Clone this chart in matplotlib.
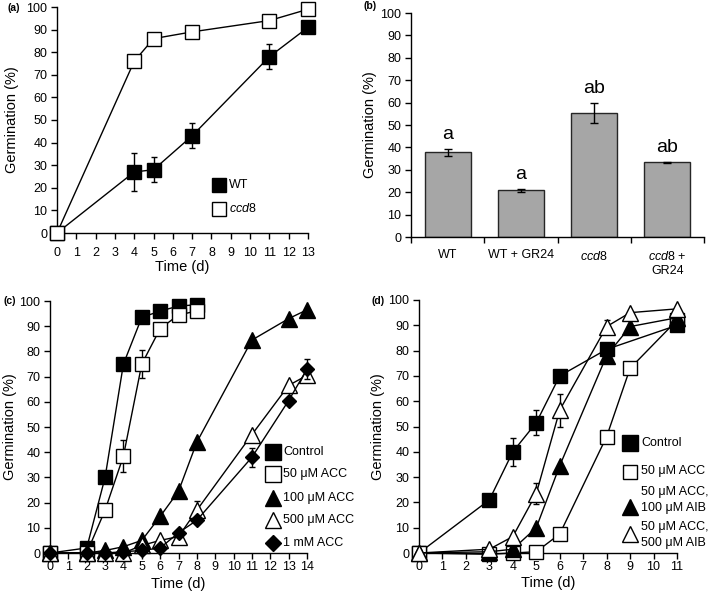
import matplotlib
matplotlib.use("Agg")
import matplotlib.pyplot as plt
import numpy as np

plt.rcParams['font.family'] = ['Liberation Sans', 'DejaVu Sans']
plt.rcParams['mathtext.fontset'] = 'custom'
plt.rcParams['mathtext.it'] = 'Liberation Sans:italic'
plt.rcParams['mathtext.rm'] = 'Liberation Sans'

# ---------------- data ----------------
# (a)
a_days = [0, 4, 5, 7, 11, 13]
a_wt = [0, 27, 28, 43, 78, 91]
a_wt_err = [0, 8.5, 5.5, 5.5, 5.5, 0]
a_ccd8 = [0, 76, 86, 89, 94, 99]
a_ccd8_err = [0, 0, 0, 0, 0, 0]
a_legend = ["WT", r"$\mathit{ccd8}$"]

# (b)
b_labels = ["WT", "WT + GR24", r"$\mathit{ccd8}$", r"$\mathit{ccd8}$ +" + "\nGR24"]
b_vals = [37.8, 20.8, 55.5, 33.3]
b_err = [1.7, 0.8, 4.5, 0.3]
b_letters = ["a", "a", "ab", "ab"]

# (c)
c_days_short = [0, 2, 3, 4, 5, 6, 7, 8]
c_days_long = [0, 2, 3, 4, 5, 6, 7, 8, 11, 13, 14]
c_control = [0, 2, 30, 75, 93.5, 96, 98, 98.5]
c_control_err = [0, 0, 0, 0, 0, 0, 0, 0]
c_acc50 = [0, 0, 17, 38.5, 75, 89, 94.5, 96]
c_acc50_err = [0, 0, 0, 6.5, 5.5, 0, 0, 0]
c_acc100 = [0, 0, 1, 2.5, 5, 14.5, 24.5, 44, 84.5, 93, 96.5]
c_acc100_err = [0, 0, 0, 0, 0, 0, 0, 0, 0, 0, 0]
c_acc500 = [0, 0, 0, 0, 3, 5, 6.5, 17, 47, 66.5, 70.5]
c_acc500_err = [0, 0, 0, 0, 0, 0, 0, 3.5, 0, 0, 0]
c_acc1m = [0, 0, 0, 0.5, 1, 2, 8, 13, 38, 60.5, 73]
c_acc1m_err = [0, 0, 0, 0, 0, 0, 0, 0, 3.8, 0, 4]
c_legend = ["Control", "50 μM ACC", "100 μM ACC", "500 μM ACC", "1 mM ACC"]

# (d)
d_days_ctrl = [0, 3, 4, 5, 6, 8, 11]
d_days = [0, 3, 4, 5, 6, 8, 9, 11]
d_control = [0, 21, 40, 51.5, 70, 80.5, 90]
d_control_err = [0, 0, 5.5, 5, 0, 0, 0]
d_acc50 = [0, -0.5, 0, 0.5, 7.5, 46, 73, 92]
d_acc50_err = [0, 0, 0, 0, 0, 0, 0, 0]
d_aib100 = [0, 0.5, 1.5, 10, 34.5, 78, 89.5, 93]
d_aib100_err = [0, 0, 0, 0, 0, 0, 0, 0]
d_aib500 = [0, 1.5, 6.5, 23.5, 56.5, 89.5, 95, 96.5]
d_aib500_err = [0, 0, 0, 4, 6.5, 2.5, 0, 0]
d_legend = ["Control", "50 μM ACC", "50 μM ACC,\n100 μM AIB", "50 μM ACC,\n500 μM AIB"]

# ---------------- figure ----------------
W, H = 709, 596
fig = plt.figure(figsize=(W / 100, H / 100), dpi=100)

def ax_px(l, t, r, b):
    return fig.add_axes([l / W, 1 - b / H, (r - l) / W, (b - t) / H])

TICK_FS = 9
LAB_FS = 10.5
LEG_FS = 9

def style(ax, l, t, r, b, ylab_x, xlab_y=None, xpad=2):
    ax.spines['top'].set_visible(False)
    ax.spines['right'].set_visible(False)
    for s in ('left', 'bottom'):
        ax.spines[s].set_linewidth(1.0)
    ax.tick_params(direction='out', length=4, width=1, labelsize=TICK_FS, pad=3)
    ax.tick_params(axis='x', pad=xpad)
    ax.set_ylim(0, 100)
    ax.set_yticks(range(0, 101, 10))
    ax.set_ylabel("Germination (%)", fontsize=LAB_FS, va='center')
    ax.yaxis.set_label_coords((ylab_x - l) / (r - l), 0.5)
    if xlab_y is not None:
        ax.set_xlabel("Time (d)", fontsize=LAB_FS, va='center')
        ax.xaxis.set_label_coords(0.5, -(xlab_y - b) / (b - t))

def series(ax, x, y, err, marker, fc, ms, z):
    ax.errorbar(x, y, yerr=err, color='black', lw=1, elinewidth=1, capsize=2.5,
                marker=marker, ms=ms, mfc=fc, mec='black', mew=1, zorder=z, clip_on=False)

def manual_legend(ax, styles, labels, xm, xt, ym, yt):
    tf = fig.transFigure
    for (marker, fc, ms), lab, y1, y2 in zip(styles, labels, ym, yt):
        ax.plot([xm / W], [1 - y1 / H], transform=tf, ls='none', marker=marker, ms=ms,
                mfc=fc, mec='black', mew=1, clip_on=False)
        ax.text(xt / W, 1 - y2 / H, lab, transform=tf, fontsize=LEG_FS, ha='left',
                va='center', linespacing=1.35)

# (a)
La, Ta, Ra, Ba = 57, 7, 308, 233
axa = ax_px(La, Ta, Ra, Ba)
style(axa, La, Ta, Ra, Ba, 12, 267, xpad=6)
series(axa, a_days, a_wt, a_wt_err, 's', 'black', 10.5, 3)
series(axa, a_days, a_ccd8, a_ccd8_err, 's', 'white', 10, 4)
axa.set_xlim(0, 13)
axa.set_xticks(range(0, 14))
manual_legend(axa, [('s', 'black', 10), ('s', 'white', 10)], a_legend,
              219, 229, [185, 209], [185, 209])
fig.text(7 / W, 1 - 8 / H, "(a)", fontsize=7.5, fontweight='bold', va='center')

# (b)
Lb, Tb, Rb, Bb = 411, 13, 704, 237
axb = ax_px(Lb, Tb, Rb, Bb)
style(axb, Lb, Tb, Rb, Bb, 370)
xb = np.arange(len(b_vals))
axb.bar(xb, b_vals, width=0.63, color='#a6a6a6', edgecolor='#262626', lw=1, zorder=2)
axb.errorbar(xb, b_vals, yerr=b_err, fmt='none', ecolor='black', elinewidth=1,
             capsize=3, zorder=3)
for xi, v, e, t in zip(xb, b_vals, b_err, b_letters):
    axb.text(xi, v + e + 2.5, t, ha='center', va='bottom', fontsize=14)
axb.set_xlim(-0.5, len(b_vals) - 0.5)
axb.set_xticks(xb)
axb.set_xticklabels(b_labels, fontsize=TICK_FS, linespacing=1.3)
axb.tick_params(axis='x', length=0, pad=9)
axb.set_xticks(np.arange(-0.5, len(b_vals), 1.0), minor=True)
axb.tick_params(axis='x', which='minor', length=4, width=1, direction='out')
fig.text(363 / W, 1 - 6 / H, "(b)", fontsize=7.5, fontweight='bold', va='center')

# (c)
Lc, Tc, Rc, Bc = 50, 301, 307, 553
axc = ax_px(Lc, Tc, Rc, Bc)
style(axc, Lc, Tc, Rc, Bc, 10, 584, xpad=1.5)
series(axc, c_days_short, c_control, c_control_err, 's', 'black', 10, 3)
series(axc, c_days_short, c_acc50, c_acc50_err, 's', 'white', 10, 4)
series(axc, c_days_long, c_acc100, c_acc100_err, '^', 'black', 11, 5)
series(axc, c_days_long, c_acc500, c_acc500_err, '^', 'white', 11, 6)
series(axc, c_days_long, c_acc1m, c_acc1m_err, 'D', 'black', 7.5, 7)
axc.set_xlim(0, 14)
axc.set_xticks(range(0, 15))
yc = [451.7, 474.3, 497.7, 520.3, 543.3]
manual_legend(axc, [('s', 'black', 11), ('s', 'white', 11), ('^', 'black', 12),
                    ('^', 'white', 12), ('D', 'black', 8)], c_legend,
              273, 283, yc, yc)
fig.text(3 / W, 1 - 301 / H, "(c)", fontsize=7.5, fontweight='bold', va='center')

# (d)
Ld, Td, Rd, Bd = 419, 300, 677, 553
axd = ax_px(Ld, Td, Rd, Bd)
style(axd, Ld, Td, Rd, Bd, 378, 583, xpad=1.5)
series(axd, d_days_ctrl, d_control, d_control_err, 's', 'black', 10.5, 3)
series(axd, d_days, d_acc50, d_acc50_err, 's', 'white', 10.5, 4)
series(axd, d_days, d_aib100, d_aib100_err, '^', 'black', 11, 5)
series(axd, d_days, d_aib500, d_aib500_err, '^', 'white', 11, 6)
axd.set_xlim(0, 11)
axd.set_xticks(range(0, 12))
manual_legend(axd, [('s', 'black', 11), ('s', 'white', 10), ('^', 'black', 12),
                    ('^', 'white', 12)], d_legend,
              630, 641, [442.5, 471.5, 507, 534], [442.5, 471, 500, 535])
fig.text(372 / W, 1 - 301 / H, "(d)", fontsize=7.5, fontweight='bold', va='center')

fig.savefig("out.png", dpi=100)
